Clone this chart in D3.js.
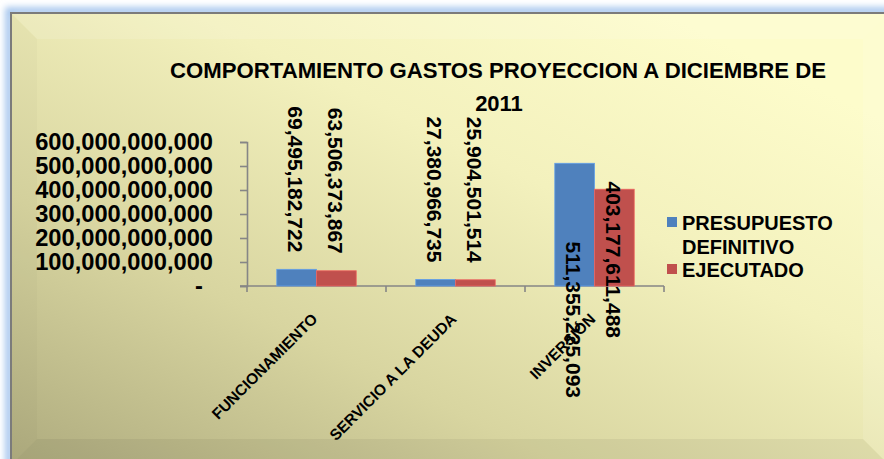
<!DOCTYPE html>
<html>
<head>
<meta charset="utf-8">
<script src="https://cdn.jsdelivr.net/npm/d3@7"></script>
<style>
  html, body { margin: 0; padding: 0; background: #ffffff; overflow: hidden; }
  svg { display: block; }
</style>
</head>
<body>
<svg id="chart" width="884" height="459"></svg>
<script>
// ---- data ----
const categories = ["FUNCIONAMIENTO", "SERVICIO A LA DEUDA", "INVERSIÓN"];
const seriesNames = ["PRESUPUESTO DEFINITIVO", "EJECUTADO"];
const presupuestoDefinitivo = [69495182722, 27380966735, 511355225093];
const ejecutado = [63506373867, 25904501514, 403177611488];
const yTickValues = [0, 100e9, 200e9, 300e9, 400e9, 500e9, 600e9];
const titleLines = ["COMPORTAMIENTO GASTOS PROYECCION A DICIEMBRE DE", "2011"];

const seriesValues = [presupuestoDefinitivo, ejecutado];
const seriesColors = ["#4f81bd", "#c0504d"];
const FONT = "'Liberation Sans', Arial, Helvetica, sans-serif";

const svg = d3.select("#chart");
const defs = svg.append("defs");

// ---- frame background ----
const bg = defs.append("linearGradient").attr("id", "bgGrad")
  .attr("x1", "0").attr("y1", "1").attr("x2", "0.85").attr("y2", "0.1");
bg.append("stop").attr("offset", "0").attr("stop-color", "#aeab7e");
bg.append("stop").attr("offset", "0.35").attr("stop-color", "#d8d5a0");
bg.append("stop").attr("offset", "0.7").attr("stop-color", "#f3f1bd");
bg.append("stop").attr("offset", "1").attr("stop-color", "#fdfccb");

const glow = defs.append("filter").attr("id", "glow")
  .attr("x", "-5%").attr("y", "-5%").attr("width", "110%").attr("height", "110%");
glow.append("feGaussianBlur").attr("stdDeviation", 3);

const frame = { x: 11, y: 13, w: 878, h: 452, bevel: 26 };

svg.append("rect")
  .attr("x", frame.x - 2).attr("y", frame.y - 2)
  .attr("width", frame.w + 4).attr("height", frame.h + 4)
  .attr("fill", "none").attr("stroke", "#a9c8ee").attr("stroke-width", 8)
  .attr("filter", "url(#glow)");

svg.append("rect")
  .attr("x", frame.x).attr("y", frame.y)
  .attr("width", frame.w).attr("height", frame.h)
  .attr("fill", "url(#bgGrad)");

// bevel facets
const fx0 = frame.x, fy0 = frame.y, fx1 = frame.x + frame.w, fy1 = frame.y + frame.h, b = frame.bevel;
const facets = [
  { pts: [[fx0, fy0], [fx1, fy0], [fx1 - b, fy0 + b], [fx0 + b, fy0 + b]], fill: "#ffffff", op: 0.12 },
  { pts: [[fx1, fy0], [fx1, fy1], [fx1 - b, fy1 - b], [fx1 - b, fy0 + b]], fill: "#ffffff", op: 0.1 },
  { pts: [[fx0, fy0], [fx0 + b, fy0 + b], [fx0 + b, fy1 - b], [fx0, fy1]], fill: "#000000", op: 0.02 },
  { pts: [[fx0, fy1], [fx0 + b, fy1 - b], [fx1 - b, fy1 - b], [fx1, fy1]], fill: "#000000", op: 0.05 }
];
svg.append("g").selectAll("polygon").data(facets).join("polygon")
  .attr("points", d => d.pts.map(p => p.join(",")).join(" "))
  .attr("fill", d => d.fill).attr("fill-opacity", d => d.op);

svg.append("rect")
  .attr("x", frame.x).attr("y", frame.y)
  .attr("width", frame.w).attr("height", frame.h)
  .attr("fill", "none").attr("stroke", "#7b7b7b").attr("stroke-width", 2);

// ---- title ----
const title = svg.append("g").attr("font-family", FONT).attr("font-weight", "bold")
  .attr("font-size", 22).attr("fill", "#000").attr("text-anchor", "middle");
title.append("text").attr("x", 498).attr("y", 78)
  .attr("textLength", 656).attr("lengthAdjust", "spacingAndGlyphs")
  .text(titleLines[0]);
title.append("text").attr("x", 499).attr("y", 111).text(titleLines[1]);

// ---- scales ----
const plot = { left: 247, right: 664, top: 142, bottom: 286 };
const x = d3.scaleBand().domain(categories).range([plot.left, plot.right]).padding(0);
const xInner = d3.scaleBand().domain(seriesNames).range([0, x.bandwidth()])
  .paddingInner(0).paddingOuter(0.75);
const y = d3.scaleLinear().domain([0, 600e9]).range([plot.bottom, plot.top]);

const AXIS = "#868686";

// ---- y axis ----
const yAxis = svg.append("g").attr("transform", `translate(${plot.left},0)`)
  .call(d3.axisLeft(y).tickValues(yTickValues).tickSize(7).tickPadding(27)
    .tickFormat(d => d === 0 ? "-" : d3.format(",")(d)));
yAxis.select(".domain").attr("stroke", AXIS).attr("stroke-width", 1.6);
yAxis.selectAll(".tick line").attr("stroke", AXIS).attr("stroke-width", 1.6);
yAxis.selectAll(".tick text")
  .attr("font-family", FONT).attr("font-weight", "bold").attr("font-size", 23.7)
  .attr("fill", "#000")
  .attr("dx", d => d === 0 ? -10 : 0);

// ---- x axis (ticks on category boundaries) ----
const xAxis = svg.append("g");
const boundaries = categories.map(c => x(c)).concat([x(categories[categories.length - 1]) + x.bandwidth()]);
xAxis.append("line")
  .attr("x1", plot.left - 7).attr("x2", plot.right)
  .attr("y1", plot.bottom).attr("y2", plot.bottom)
  .attr("stroke", AXIS).attr("stroke-width", 1.6);
xAxis.selectAll("line.tick").data(boundaries).join("line").attr("class", "tick")
  .attr("x1", d => d).attr("x2", d => d)
  .attr("y1", plot.bottom).attr("y2", plot.bottom + 6)
  .attr("stroke", AXIS).attr("stroke-width", 1.6);

xAxis.selectAll("text.cat").data(categories).join("text").attr("class", "cat")
  .attr("transform", d => `translate(${x(d) + x.bandwidth() / 2 + 2},${plot.bottom + 34}) rotate(-45)`)
  .attr("text-anchor", "end")
  .attr("font-family", FONT).attr("font-weight", "bold").attr("font-size", 15.5)
  .attr("fill", "#000")
  .text(d => d);

// ---- bars ----
const barData = [];
categories.forEach((c, ci) => {
  seriesNames.forEach((s, si) => {
    barData.push({ cat: c, ci, series: s, si, value: seriesValues[si][ci] });
  });
});

svg.append("g").selectAll("rect").data(barData).join("rect")
  .attr("x", d => x(d.cat) + xInner(d.series))
  .attr("y", d => y(d.value))
  .attr("width", xInner.bandwidth())
  .attr("height", d => y(0) - y(d.value))
  .attr("fill", d => seriesColors[d.si])
  .attr("stroke", d => d3.color(seriesColors[d.si]).brighter(0.6))
  .attr("stroke-width", 0.8);

// ---- value labels (rotated, reading downward) ----
// Labels end just above their bar; on the tall INVERSIÓN pair they sit lower, beside the bars.
function labelEnd(d) {
  if (d.ci === 2) return y(0) + (d.si === 0 ? 112 : 52);
  return y(d.value) - 17;
}
svg.append("g").selectAll("text").data(barData).join("text")
  .attr("transform", d => `translate(${x(d.cat) + xInner(d.series) + xInner.bandwidth() / 2 - 1},${labelEnd(d)}) rotate(90)`)
  .attr("text-anchor", "end")
  .attr("dy", "0.36em")
  .attr("font-family", FONT).attr("font-weight", "bold").attr("font-size", 21)
  .attr("fill", "#000")
  .text(d => d3.format(",")(d.value));

// ---- legend ----
const legend = svg.append("g").attr("font-family", FONT).attr("font-weight", "bold")
  .attr("font-size", 20).attr("fill", "#000");
const legendRows = [{ y: 230, si: 0 }, { y: 277, si: 1 }];
legendRows.forEach(r => {
  legend.append("rect")
    .attr("x", 667).attr("y", r.y - 13).attr("width", 10).attr("height", 10)
    .attr("fill", seriesColors[r.si]);
  seriesNames[r.si].split(" ").forEach((line, li) => {
    legend.append("text").attr("x", 682).attr("y", r.y + li * 23.5).text(line);
  });
});
</script>
</body>
</html>
